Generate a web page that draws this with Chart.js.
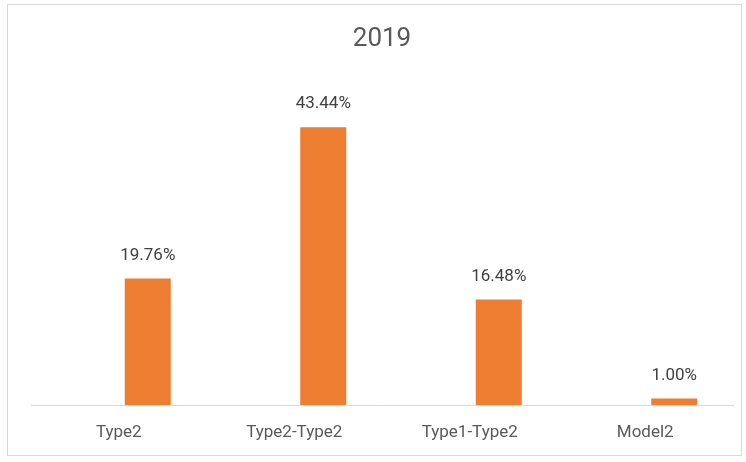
<!DOCTYPE html>
<html>
<head>
<meta charset="utf-8">
<script src="https://cdn.jsdelivr.net/npm/chart.js@4/dist/chart.umd.min.js"></script>
<style>
    body { margin: 0; background: #fff; }
    #box {
        position: absolute;
        left: 7px;
        top: 4px;
        width: 733px;
        height: 450px;
        border: 1px solid #d9d9d9;
        background: #fff;
    }
</style>
</head>
<body>
<div id="box"><canvas id="chart" width="733" height="450"></canvas></div>
<script>
const categories = ['Type2', 'Type2-Type2', 'Type1-Type2', 'Model2'];
// the Excel chart has an empty first series, which pushes the bars right of centre
const blankSeries = [null, null, null, null];
const shareValues = [19.76, 43.44, 16.48, 1.00];

const barColor = '#ED7D31';
const fontFamily = 'Roboto, "Open Sans", sans-serif';

// draw the percentage labels above each bar
const valueLabels = {
    id: 'valueLabels',
    afterDatasetsDraw(chart) {
        const ctx = chart.ctx;
        const meta = chart.getDatasetMeta(1);
        ctx.save();
        ctx.font = '17px ' + fontFamily;
        ctx.fillStyle = '#404040';
        ctx.textAlign = 'center';
        ctx.textBaseline = 'middle';
        meta.data.forEach((bar, i) => {
            ctx.fillText(shareValues[i].toFixed(2) + '%', bar.x, bar.y - 23);
        });
        ctx.restore();
    }
};

const ctx = document.getElementById('chart').getContext('2d');
new Chart(ctx, {
    type: 'bar',
    data: {
        labels: categories,
        datasets: [
            {
                label: 'blank',
                data: blankSeries,
                backgroundColor: 'rgba(0,0,0,0)'
            },
            {
                label: '2019',
                data: shareValues,
                backgroundColor: barColor
            }
        ]
    },
    options: {
        responsive: false,
        animation: false,
        categoryPercentage: 0.661,
        barPercentage: 0.793,
        layout: {
            padding: { top: 19, left: 23, right: 8, bottom: 4 }
        },
        plugins: {
            legend: { display: false },
            tooltip: { enabled: false },
            title: {
                display: true,
                text: '2019',
                color: '#595959',
                font: { family: fontFamily, size: 26, weight: 'normal' },
                padding: { top: 0, bottom: 30 }
            }
        },
        scales: {
            y: {
                display: false,
                min: 0,
                max: 50
            },
            x: {
                grid: { display: false, drawTicks: false },
                border: { display: true, color: '#d9d9d9', width: 1 },
                ticks: {
                    color: '#595959',
                    padding: 18,
                    font: { family: fontFamily, size: 17 }
                },
                afterFit(scale) {
                    scale.height = 46;
                }
            }
        }
    },
    plugins: [valueLabels]
});
</script>
</body>
</html>
